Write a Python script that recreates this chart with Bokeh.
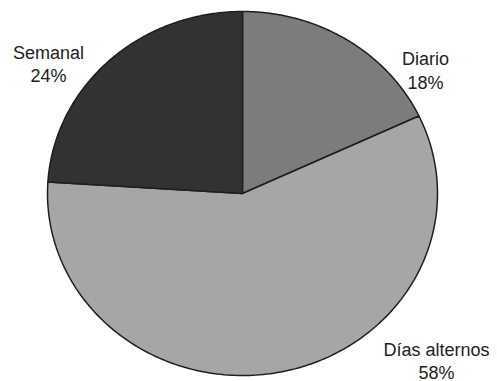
import numpy as np
from bokeh.plotting import figure
from bokeh.models import Range1d, ColumnDataSource
from bokeh.core.properties import value
from bokeh.embed import file_html
from bokeh.resources import INLINE

# ---- data ----
categories = ["Diario", "Días alternos", "Semanal"]
percentages = [18, 58, 24]

# ---- styles / layout ----
colors = ["#7c7c7c", "#a6a6a6", "#323232"]
cx, cy = 242, 193          # pie centre (pixels, y down)
rx, ry = 195, 182          # pie radii
label_x = [425, 436, 48]
label_y1 = [58, 349, 52]
label_y2 = [82, 372, 75]
font = "Liberation Sans"
fsize = "18px"

p = figure(width=497, height=381, output_backend="svg", toolbar_location=None,
           x_range=Range1d(0, 497), y_range=Range1d(381, 0), min_border=0)
p.axis.visible = False
p.xgrid.visible = False
p.ygrid.visible = False
p.outline_line_color = None
p.background_fill_color = "white"
p.border_fill_color = "white"

total = float(sum(percentages))
start = 90.0
xs, ys = [], []
for v in percentages:
    sweep = v / total * 360.0
    th = np.radians(np.linspace(start, start - sweep, 200))
    x = [cx] + list(cx + rx * np.cos(th)) + [cx]
    y = [cy] + list(cy - ry * np.sin(th)) + [cy]
    xs.append(x)
    ys.append(y)
    start -= sweep

src = ColumnDataSource(dict(xs=xs, ys=ys, color=colors))
p.patches("xs", "ys", source=src, fill_color="color", line_color="#1e1e1e",
          line_width=1.5)

tsrc = ColumnDataSource(dict(x=label_x, y1=label_y1, y2=label_y2,
                             name=categories,
                             pct=[f"{v}%" for v in percentages]))
p.text("x", "y1", text="name", source=tsrc, text_align="center",
       text_baseline="alphabetic", text_font=value(font),
       text_font_size=fsize, text_color="#222222")
p.text("x", "y2", text="pct", source=tsrc, text_align="center",
       text_baseline="alphabetic", text_font=value(font),
       text_font_size=fsize, text_color="#222222")

open("out.html", "w").write(file_html(p, INLINE))
